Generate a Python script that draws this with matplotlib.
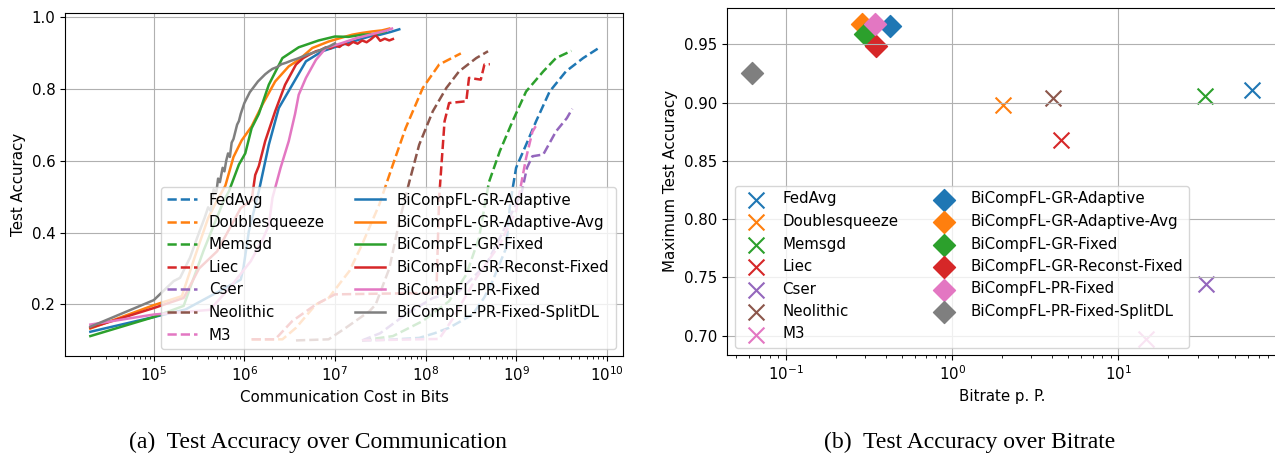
import numpy as np
import matplotlib
matplotlib.use("Agg")
import matplotlib.pyplot as plt

plt.rcParams["font.family"] = ["DejaVu Sans"]
plt.rcParams["font.size"] = 10.8

# ---------------------------------------------------------------------------
# Accuracy curves: (log10 of communicated bits, test accuracy)
# ---------------------------------------------------------------------------
fedavg_curve = [(7.30, 0.100), (7.60, 0.102), (7.93, 0.107), (8.10, 0.120), (8.26, 0.135),
                (8.52, 0.172), (8.65, 0.220), (8.74, 0.265), (8.89, 0.357), (8.93, 0.470),
                (8.96, 0.520), (9.00, 0.580), (9.11, 0.644), (9.22, 0.709), (9.37, 0.792),
                (9.55, 0.848), (9.74, 0.885), (9.90, 0.911)]
doublesqueeze_curve = [(6.08, 0.103), (6.42, 0.103), (6.57, 0.135), (6.79, 0.200), (6.93, 0.218),
                       (7.16, 0.293), (7.30, 0.367), (7.49, 0.478), (7.64, 0.589), (7.78, 0.690),
                       (7.97, 0.802), (8.15, 0.867), (8.39, 0.898)]
memsgd_curve = [(7.30, 0.100), (7.64, 0.112), (7.97, 0.154), (8.26, 0.209), (8.45, 0.283),
                (8.59, 0.385), (8.70, 0.540), (8.82, 0.626), (8.96, 0.709), (9.11, 0.792),
                (9.30, 0.848), (9.44, 0.885), (9.61, 0.905)]
liec_curve = [(6.08, 0.103), (6.34, 0.103), (6.53, 0.154), (6.79, 0.200), (7.00, 0.228),
              (7.50, 0.230), (8.12, 0.232), (8.15, 0.496), (8.21, 0.709), (8.26, 0.760),
              (8.45, 0.765), (8.48, 0.830), (8.61, 0.825), (8.65, 0.867), (8.71, 0.868)]
cser_curve = [(7.30, 0.100), (7.50, 0.120), (7.78, 0.172), (8.08, 0.218), (8.37, 0.237),
              (8.67, 0.311), (8.85, 0.400), (9.00, 0.480), (9.06, 0.510), (9.12, 0.580),
              (9.18, 0.612), (9.30, 0.617), (9.44, 0.681), (9.56, 0.718), (9.62, 0.744)]
neolithic_curve = [(6.57, 0.100), (6.93, 0.103), (7.12, 0.135), (7.38, 0.181), (7.45, 0.200),
                   (7.60, 0.300), (7.71, 0.430), (7.82, 0.540), (7.93, 0.644), (8.08, 0.737),
                   (8.23, 0.802), (8.37, 0.848), (8.56, 0.885), (8.69, 0.904)]
m3_curve = [(7.30, 0.100), (7.70, 0.102), (8.15, 0.104), (8.30, 0.160), (8.56, 0.274),
            (8.82, 0.367), (9.00, 0.460), (9.11, 0.607), (9.18, 0.680), (9.22, 0.697)]

gr_adaptive_curve = [(4.30, 0.124), (5.00, 0.165), (5.35, 0.186), (5.96, 0.269), (5.99, 0.302),
                     (6.05, 0.404), (6.16, 0.515), (6.27, 0.644), (6.38, 0.746), (6.53, 0.811),
                     (6.68, 0.876), (6.86, 0.904), (7.08, 0.922), (7.25, 0.935), (7.38, 0.945),
                     (7.50, 0.950), (7.62, 0.958), (7.71, 0.965)]
gr_adaptive_avg_curve = [(4.30, 0.133), (5.00, 0.198), (5.31, 0.223), (5.45, 0.330), (5.60, 0.440),
                         (5.70, 0.490), (5.79, 0.530), (5.88, 0.610), (5.97, 0.656), (6.08, 0.695),
                         (6.20, 0.756), (6.34, 0.820), (6.49, 0.862), (6.60, 0.880), (6.75, 0.913),
                         (6.93, 0.931), (7.05, 0.940), (7.19, 0.950), (7.30, 0.955), (7.41, 0.959),
                         (7.52, 0.962), (7.60, 0.967)]
gr_fixed_curve = [(4.30, 0.112), (5.00, 0.165), (5.33, 0.196), (5.55, 0.350), (5.77, 0.487),
                  (5.83, 0.515), (5.94, 0.589), (6.01, 0.620), (6.08, 0.690), (6.16, 0.730),
                  (6.27, 0.811), (6.42, 0.885), (6.60, 0.915), (6.82, 0.934), (7.00, 0.945),
                  (7.15, 0.944), (7.30, 0.950), (7.45, 0.952), (7.56, 0.959)]
gr_reconst_fixed_curve = [(4.30, 0.135), (5.00, 0.190), (5.33, 0.218), (5.50, 0.300), (5.70, 0.348),
                          (5.96, 0.468), (6.08, 0.490), (6.12, 0.560), (6.16, 0.585), (6.23, 0.654),
                          (6.34, 0.737), (6.45, 0.811), (6.57, 0.867), (6.65, 0.885), (6.72, 0.895),
                          (6.79, 0.904), (6.85, 0.908), (6.90, 0.915), (6.95, 0.912), (7.00, 0.920),
                          (7.05, 0.916), (7.10, 0.926), (7.15, 0.921), (7.20, 0.930), (7.25, 0.925),
                          (7.30, 0.934), (7.35, 0.929), (7.40, 0.938), (7.45, 0.949), (7.50, 0.933),
                          (7.55, 0.939), (7.60, 0.934), (7.64, 0.938)]
pr_fixed_curve = [(4.30, 0.144), (5.00, 0.172), (5.62, 0.185), (5.85, 0.250), (6.07, 0.320),
                  (6.21, 0.385), (6.27, 0.420), (6.31, 0.496), (6.40, 0.580), (6.49, 0.654),
                  (6.56, 0.730), (6.60, 0.783), (6.68, 0.830), (6.79, 0.880), (6.90, 0.913),
                  (7.08, 0.927), (7.23, 0.940), (7.45, 0.954), (7.55, 0.960), (7.63, 0.967)]
pr_fixed_splitdl_curve = [(4.30, 0.138), (5.00, 0.212), (5.22, 0.265), (5.29, 0.274), (5.40, 0.330),
                          (5.50, 0.400), (5.56, 0.440), (5.60, 0.470), (5.63, 0.460), (5.66, 0.520),
                          (5.69, 0.510), (5.71, 0.550), (5.73, 0.540), (5.76, 0.580), (5.78, 0.570),
                          (5.80, 0.600), (5.82, 0.620), (5.84, 0.610), (5.86, 0.650), (5.88, 0.660),
                          (5.90, 0.680), (5.92, 0.700), (5.94, 0.710), (5.96, 0.730), (5.98, 0.745),
                          (6.00, 0.760), (6.03, 0.775), (6.06, 0.790), (6.09, 0.800), (6.12, 0.810),
                          (6.15, 0.820), (6.19, 0.830), (6.23, 0.840), (6.27, 0.848), (6.31, 0.855),
                          (6.36, 0.860), (6.41, 0.868), (6.46, 0.872), (6.52, 0.878), (6.58, 0.883),
                          (6.64, 0.889), (6.70, 0.895), (6.76, 0.900), (6.82, 0.905), (6.88, 0.912),
                          (6.94, 0.918), (7.00, 0.926)]

# ---------------------------------------------------------------------------
# Maximum accuracy versus bitrate per parameter
# ---------------------------------------------------------------------------
baseline_names = ["FedAvg", "Doublesqueeze", "Memsgd", "Liec", "Cser", "Neolithic", "M3"]
baseline_bitrate = [63.7, 2.01, 33.1, 4.54, 33.6, 4.03, 14.7]
baseline_max_acc = [0.9108, 0.8983, 0.9053, 0.8676, 0.744, 0.904, 0.697]

bicompfl_names = ["BiCompFL-GR-Adaptive", "BiCompFL-GR-Adaptive-Avg", "BiCompFL-GR-Fixed",
                  "BiCompFL-GR-Reconst-Fixed", "BiCompFL-PR-Fixed", "BiCompFL-PR-Fixed-SplitDL"]
bicompfl_bitrate = [0.42, 0.288, 0.301, 0.346, 0.344, 0.0625]
bicompfl_max_acc = [0.9653, 0.9676, 0.959, 0.9486, 0.967, 0.9258]

comm_ticks = [1e5, 1e6, 1e7, 1e8, 1e9, 1e10]

baseline_colors = ["#1f77b4", "#ff7f0e", "#2ca02c", "#d62728", "#9467bd", "#8c564b", "#e377c2"]
bicompfl_colors = ["#1f77b4", "#ff7f0e", "#2ca02c", "#d62728", "#e377c2", "#7f7f7f"]

baseline_curves = [fedavg_curve, doublesqueeze_curve, memsgd_curve, liec_curve,
                   cser_curve, neolithic_curve, m3_curve]
bicompfl_curves = [gr_adaptive_curve, gr_adaptive_avg_curve, gr_fixed_curve,
                   gr_reconst_fixed_curve, pr_fixed_curve, pr_fixed_splitdl_curve]

fig = plt.figure(figsize=(12.75, 4.59), dpi=100)
ax1 = fig.add_axes([65 / 1275, 103 / 459, 558 / 1275, 343 / 459])
ax2 = fig.add_axes([727 / 1275, 104 / 459, 550 / 1275, 347 / 459])

# (a) accuracy over communicated bits
for name, curve, color in zip(baseline_names, baseline_curves, baseline_colors):
    lx, acc = np.array(curve).T
    ax1.plot(10 ** lx, acc, "--", color=color, lw=1.8, label=name)
for name, curve, color in zip(bicompfl_names, bicompfl_curves, bicompfl_colors):
    lx, acc = np.array(curve).T
    ax1.plot(10 ** lx, acc, "-", color=color, lw=1.8, label=name)

ax1.set_xscale("log")
ax1.set_xticks(comm_ticks)
ax1.set_xlim(10 ** 4.02, 10 ** 10.18)
ax1.grid(True)
ax1.set_xlabel("Communication Cost in Bits")
ax1.set_ylabel("Test Accuracy")
ax1.set_yticks([0.2, 0.4, 0.6, 0.8, 1.0])
ax1.legend(loc="lower right", ncol=2)

# (b) maximum accuracy over bitrate
for name, br, acc, color in zip(baseline_names, baseline_bitrate, baseline_max_acc, baseline_colors):
    ax2.scatter([br], [acc], marker="x", s=130, color=color, linewidths=1.5, label=name)
for name, br, acc, color in zip(bicompfl_names, bicompfl_bitrate, bicompfl_max_acc, bicompfl_colors):
    ax2.scatter([br], [acc], marker="D", s=125, color=color, label=name)

ax2.set_xscale("log")
ax2.grid(True)
ax2.set_xlabel("Bitrate p. P.")
ax2.set_ylabel("Maximum Test Accuracy")
ax2.legend(loc="lower left", ncol=2)

cap_font = dict(family="Liberation Serif", fontsize=17, ha="center", va="center")
fig.text(318 / 1275, 1 - 442 / 459, "(a)  Test Accuracy over Communication", **cap_font)
fig.text(970 / 1275, 1 - 442 / 459, "(b)  Test Accuracy over Bitrate", **cap_font)

fig.savefig("out.png", dpi=100)
